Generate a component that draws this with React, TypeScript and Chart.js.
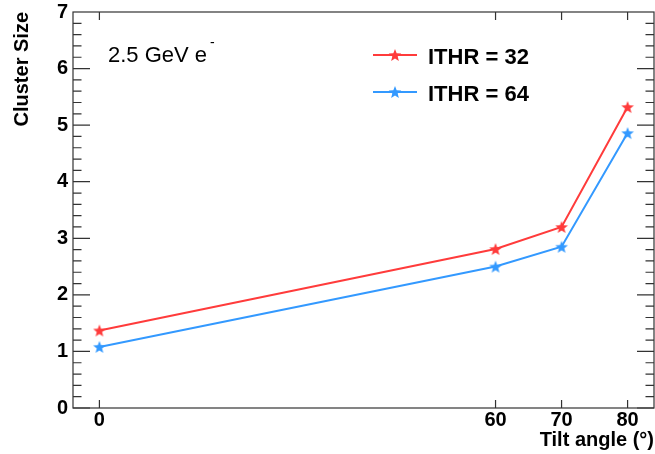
import React, { useEffect, useRef } from "react";
import { Chart, registerables } from "chart.js";

Chart.register(...registerables);

// ---- data ----
const tiltAngles = [0, 60, 70, 80];
const ithr32 = [1.37, 2.81, 3.2, 5.32];
const ithr64 = [1.08, 2.5, 2.85, 4.86];
const seriesLabels = ["ITHR = 32", "ITHR = 64"];
const seriesColors = ["#ff3b3b", "#3399ff"];
const xTickValues = [0, 60, 70, 80];
const yTickValues = [0, 1, 2, 3, 4, 5, 6, 7];
const xTitle = "Tilt angle (°)";
const yTitle = "Cluster Size";
const beamLabel = "2.5 GeV e";
const beamSup = "-";

const FONT = "'Liberation Sans', Arial, Helvetica, sans-serif";

function makeStar(color: string, outer = 6.6, inner = 2.8): HTMLCanvasElement {
  const c = document.createElement("canvas");
  const s = Math.ceil(outer * 2 + 2);
  c.width = s;
  c.height = s;
  const ctx = c.getContext("2d")!;
  ctx.fillStyle = color;
  ctx.beginPath();
  for (let i = 0; i < 10; i++) {
    const r = i % 2 === 0 ? outer : inner;
    const a = -Math.PI / 2 + (i * Math.PI) / 5;
    const x = s / 2 + r * Math.cos(a);
    const y = s / 2 + r * Math.sin(a) + 0.6;
    if (i === 0) ctx.moveTo(x, y);
    else ctx.lineTo(x, y);
  }
  ctx.closePath();
  ctx.fill();
  return c;
}

function zeroPad(scale: any) {
  scale.paddingTop = 0;
  scale.paddingBottom = 0;
  scale.paddingLeft = 0;
  scale.paddingRight = 0;
}

export default function App() {
  const ref = useRef<HTMLCanvasElement | null>(null);

  useEffect(() => {
    if (!ref.current) return;
    const stars = seriesColors.map((c) => makeStar(c));
    const seriesValues = [ithr32, ithr64];

    const framePlugin = {
      id: "rootFrame",
      beforeDatasetsDraw(chart: any) {
        const { ctx, chartArea, scales } = chart;
        const { left, right, top, bottom } = chartArea;
        const x = scales.x;
        const y = scales.y;
        ctx.save();
        ctx.strokeStyle = "#333";
        ctx.lineWidth = 1.2;
        ctx.strokeRect(left, top, right - left, bottom - top);
        ctx.beginPath();
        xTickValues.forEach((v) => {
          const px = x.getPixelForValue(v);
          ctx.moveTo(px, bottom);
          ctx.lineTo(px, bottom - 8);
          ctx.moveTo(px, top);
          ctx.lineTo(px, top + 8);
        });
        const minorPerMajor = 5;
        for (let k = 0; k < yTickValues.length - 1; k++) {
          for (let m = 0; m < minorPerMajor; m++) {
            const v = yTickValues[k] + ((yTickValues[k + 1] - yTickValues[k]) * m) / minorPerMajor;
            const py = y.getPixelForValue(v);
            const len = m === 0 ? 17 : 8.5;
            ctx.moveTo(left, py);
            ctx.lineTo(left + len, py);
            ctx.moveTo(right, py);
            ctx.lineTo(right - len, py);
          }
        }
        ctx.stroke();
        ctx.restore();
      },
      afterDraw(chart: any) {
        const { ctx } = chart;
        ctx.save();
        // legend
        const rows = [55, 92];
        chart.data.datasets.forEach((ds: any, i: number) => {
          const yy = rows[i];
          ctx.strokeStyle = ds.borderColor;
          ctx.lineWidth = 2;
          ctx.beginPath();
          ctx.moveTo(373, yy);
          ctx.lineTo(417, yy);
          ctx.stroke();
          const st = stars[i];
          ctx.drawImage(st, 395 - st.width / 2, yy - st.height / 2);
          ctx.fillStyle = "#000";
          ctx.font = `bold 22px ${FONT}`;
          ctx.textBaseline = "alphabetic";
          ctx.textAlign = "left";
          ctx.fillText(ds.label, 428, yy + 9);
        });
        // beam annotation
        ctx.fillStyle = "#000";
        ctx.font = `22px ${FONT}`;
        ctx.textBaseline = "alphabetic";
        ctx.textAlign = "left";
        ctx.fillText(beamLabel, 108, 62);
        const w = ctx.measureText(beamLabel).width;
        ctx.font = `14px ${FONT}`;
        ctx.fillText(beamSup, 108 + w + 3, 47);
        ctx.restore();
      },
    };

    const chart = new Chart(ref.current, {
      type: "line",
      data: {
        datasets: seriesValues.map((vals, i) => ({
          label: seriesLabels[i],
          data: tiltAngles.map((a, j) => ({ x: a, y: vals[j] })),
          borderColor: seriesColors[i],
          backgroundColor: seriesColors[i],
          borderWidth: 2,
          pointStyle: stars[i] as any,
          pointRadius: 6,
          tension: 0,
          fill: false,
          clip: false,
        })),
      },
      options: {
        animation: false,
        responsive: false,
        devicePixelRatio: 1,
        layout: { autoPadding: false, padding: { top: 12, right: 1, left: 0, bottom: 0 } },
        plugins: {
          legend: { display: false },
          tooltip: { enabled: false },
        },
        scales: {
          x: {
            type: "linear",
            min: -4,
            max: 84,
            afterBuildTicks: (scale: any) => {
              scale.ticks = xTickValues.map((v) => ({ value: v }));
            },
            afterFit: (scale: any) => {
              scale.height = 46;
              zeroPad(scale);
            },
            grid: { display: false, drawTicks: false, tickLength: 0 },
            border: { display: false },
            ticks: {
              color: "#000",
              padding: 0,
              autoSkip: false,
              maxRotation: 0,
              font: { family: FONT, size: 20, weight: "bold", lineHeight: 1.2 },
            },
            title: {
              display: true,
              text: xTitle,
              align: "end",
              color: "#000",
              padding: { top: 0, bottom: 2 },
              font: { family: FONT, size: 20, weight: "bold", lineHeight: 1.2 },
            },
          },
          y: {
            type: "linear",
            min: yTickValues[0],
            max: yTickValues[yTickValues.length - 1],
            afterBuildTicks: (scale: any) => {
              scale.ticks = yTickValues.map((v) => ({ value: v }));
            },
            afterFit: (scale: any) => {
              scale.width = 73;
              zeroPad(scale);
            },
            grid: { display: false, drawTicks: false, tickLength: 0 },
            border: { display: false },
            ticks: {
              color: "#000",
              padding: 5,
              font: { family: FONT, size: 20, weight: "bold", lineHeight: 1.2 },
            },
            title: {
              display: true,
              text: yTitle,
              align: "end",
              color: "#000",
              padding: { top: 10, bottom: 0 },
              font: { family: FONT, size: 20, weight: "bold", lineHeight: 1.2 },
            },
          },
        },
      },
      plugins: [framePlugin],
    } as any);

    return () => chart.destroy();
  }, []);

  return (
    <div style={{ position: "absolute", left: 0, top: 0, width: 655, height: 454, background: "#fff" }}>
      <canvas ref={ref} width={655} height={454} style={{ display: "block" }} />
    </div>
  );
}
